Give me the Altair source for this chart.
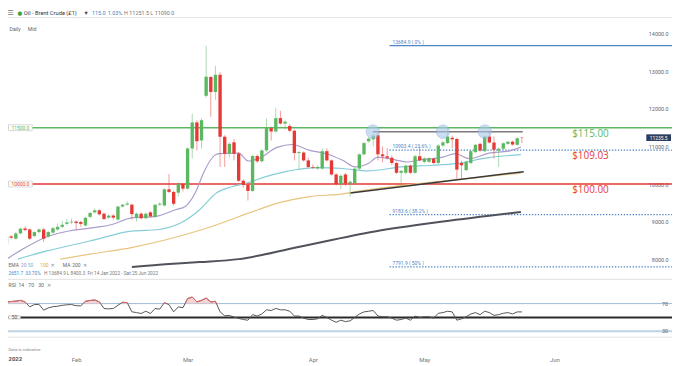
import altair as alt
import pandas as pd

# ---------------- data ----------------
opens = [8395, 8605, 8545, 8685, 8815, 8790, 8615, 8720, 8790, 8600,
         8705, 8790, 8860, 8940, 8980, 9000, 8990, 8895, 9125, 9245,
         9300, 9210, 9105, 9160, 9053, 9400, 9450, 9450, 9105, 9210,
         9090, 9245, 9125, 9450, 9430, 9860, 9790, 9770, 10000, 9877,
         10947, 11640, 11160, 12350, 12850, 12450, 12910, 11260, 10810, 11110,
         10810, 10087, 9974, 9816, 10745, 10605, 10895, 11490, 11400, 11755,
         11610, 11545, 11420, 10825, 10840, 10630, 10455, 10415, 10415, 10875,
         10630, 10255, 10000, 10255, 10020, 10020, 10410, 10790, 11140, 11190,
         11300, 10790, 10740, 10700, 10560, 10300, 10300, 10490, 10300, 10740,
         10590, 10590, 10675, 10560, 11025, 11090, 11230, 11200, 10560, 10370,
         10560, 10850, 11070, 10875, 11265, 11105, 10895, 10940, 11070, 11125,
         11045, 11245]
highs = [8650, 8640, 8720, 8840, 8870, 8820, 8740, 8820, 8830, 8750,
         8850, 8950, 9025, 9070, 9080, 9030, 9020, 9130, 9260, 9350,
         9330, 9240, 9190, 9190, 9420, 9470, 9540, 9480, 9240, 9250,
         9240, 9280, 9470, 9520, 9890, 10263, 9820, 10050, 10030, 10980,
         11870, 11700, 11760, 13684.9, 12880, 13150, 12980, 11300, 11120, 11200,
         10850, 10120, 10010, 10780, 10790, 10920, 11750, 11530, 12030, 11950,
         11700, 11600, 11450, 10880, 10870, 10700, 10520, 10500, 10950, 10950,
         10660, 10290, 10250, 10290, 10100, 10440, 10820, 11120, 11250, 11340,
         11380, 11000, 10950, 10760, 10600, 10380, 10520, 10520, 10780, 11000,
         10720, 10720, 10700, 11060, 11150, 11470, 11290, 11230, 10620, 10620,
         10900, 11070, 11100, 11290, 11420, 11265, 10970, 11110, 11150, 11160,
         11240, 11251.5]
lows = [8340, 8540, 8520, 8660, 8740, 8510, 8580, 8690, 8455, 8570,
        8680, 8760, 8830, 8900, 8930, 8790, 8860, 8870, 9090, 9220,
        9160, 9040, 9080, 9050, 9020, 9380, 9420, 9053, 9000, 9060,
        9060, 9110, 9100, 9420, 9400, 9760, 9420, 9660, 9800, 9850,
        10684, 10895, 10947, 12300, 11790, 12240, 10455, 10455, 10700, 10630,
        10060, 9900, 9560, 9790, 10560, 10570, 10860, 11160, 11370, 11580,
        11450, 11380, 10630, 10370, 10600, 10420, 10400, 10380, 10380, 10600,
        10220, 9960, 9870, 9950, 9660, 9990, 10380, 10760, 11100, 11000,
        10630, 10580, 10650, 10500, 10270, 9910, 10260, 10270, 10270, 10600,
        10550, 10560, 10520, 10530, 10990, 11060, 10950, 10120, 10150, 10340,
        10530, 10820, 10860, 10850, 11080, 10680, 10455, 10910, 11040, 11020,
        11020, 11090]
closes = [8605, 8570, 8685, 8810, 8775, 8545, 8720, 8790, 8545, 8720,
          8825, 8860, 8915, 8980, 9000, 8960, 8940, 9100, 9230, 9300,
          9195, 9070, 9160, 9105, 9400, 9450, 9480, 9200, 9210, 9090,
          9210, 9140, 9447, 9475, 9860, 9790, 9474, 10000, 9877, 10947,
          11640, 11140, 11700, 12860, 12450, 12910, 11260, 10810, 11070, 10810,
          10087, 9974, 9816, 10745, 10605, 10895, 11490, 11400, 11755, 11610,
          11660, 11420, 10825, 10850, 10630, 10455, 10435, 10455, 10875, 10630,
          10255, 10000, 10220, 10020, 10060, 10410, 10790, 11090, 11210, 11290,
          10790, 10740, 10700, 10560, 10300, 10350, 10490, 10300, 10740, 10630,
          10680, 10690, 10560, 11025, 11110, 11265, 11190, 10385, 10500, 10590,
          10875, 11045, 10895, 11265, 11105, 10915, 10940, 11085, 11125, 11050,
          11220, 11235.5]
rsi = [72.4, 73.0, 73.5, 74.7, 72.4, 65.3, 68.6, 68.9, 60.5, 63.8,
       65.5, 66.2, 67.5, 68.3, 68.6, 67.0, 66.7, 73.3, 74.5, 75.2,
       72.4, 62.9, 62.4, 62.9, 67.6, 71.9, 71.4, 58.1, 57.0, 55.7,
       59.0, 55.7, 62.9, 62.0, 71.4, 68.5, 58.1, 65.3, 64.0, 77.1,
       79.5, 72.4, 74.7, 78.0, 72.4, 73.3, 58.1, 52.4, 52.9, 50.5,
       48.6, 47.0, 46.0, 54.0, 52.0, 55.0, 61.0, 60.0, 63.0, 61.0,
       61.0, 59.0, 52.0, 52.0, 49.0, 47.0, 47.0, 48.0, 53.0, 50.0,
       46.0, 43.0, 46.0, 44.0, 45.0, 50.0, 55.0, 58.0, 59.0, 60.0,
       52.0, 51.0, 51.0, 49.0, 46.0, 47.0, 49.0, 46.0, 52.0, 50.0,
       51.0, 51.0, 49.0, 56.0, 57.0, 59.0, 58.0, 46.0, 48.0, 51.0,
       55.0, 57.0, 54.0, 59.0, 57.0, 53.0, 54.0, 56.0, 57.0, 55.0,
       58.0, 58.0]

ema20_i = [0, 3.9, 8.7, 13.7, 17.9, 22.7, 26.9, 32.2, 36.4, 38.5, 40.6, 42.7, 44.8, 45.8, 50.0,
           52.1, 54.2, 58.4, 61.5, 65.3, 68.9, 72.4, 75.2, 77.9, 80.0, 83.5, 86.3, 89.2, 91.9,
           94.0, 96.7, 99.7, 103.9, 108.1, 110.8]
ema20_v = [8000, 8297, 8597, 8755, 8824, 8921, 9097, 9139, 9316, 9403, 9755, 10368, 10763, 10808, 10824,
           10613, 10676, 10982, 11053, 10895, 10808, 10632, 10455, 10545, 10718, 10650, 10587, 10650, 10676,
           10718, 10808, 10676, 10824, 10876, 10982]
ema50_i = [2.4, 8.7, 17.9, 26.9, 32.8, 37.8, 41.6, 45.2, 48.5, 51.5, 55.7, 59.9, 62.6, 66.8, 72.4,
           77.9, 85.0, 91.9, 96.7, 103.9, 110.8]
ema50_v = [8000, 8218, 8482, 8745, 8790, 8982, 9316, 9763, 9929, 10018, 10192, 10324, 10387, 10439, 10413,
           10350, 10455, 10500, 10545, 10703, 10782]
ema100_i = [11.6, 17.9, 26.9, 42.7, 54.2, 58.4, 65.3, 72.4, 75.2, 87.7, 100.3, 110.8]
ema100_v = [8000, 8132, 8308, 8808, 9316, 9492, 9666, 9737, 9797, 10000, 10158, 10290]
ma200_i = [27.0, 35.0, 41.6, 50.0, 62.6, 79.3, 94.0, 110.8]
ma200_v = [7790, 7870, 7921, 8000, 8316, 8737, 9000, 9255]

key_levels = [11500, 10000]
key_names = ["res", "sup"]
key_labels = ["11500.0", "10000.0"]
fib_levels = [13684.9, 10903.4, 9183.6, 7791.9]
fib_labels = ["13684.9 ( 0% )", "10903.4 ( 23.6% )", "9183.6 ( 38.2% )", "7791.9 ( 50% )"]
fib_start = 82.5
usd_labels = ["$115.00", "$109.03", "$100.00"]
usd_anchor = [11500, 10903.4, 10000]
usd_names = ["res", "sup", "sup"]
price_ticks = [8000, 9000, 10000, 11000, 12000, 13000, 14000]
month_ticks = [15, 39, 66, 90, 118]
month_names = ["Feb", "Mar", "Apr", "May", "Jun"]
touch_i = [78.9, 94.0, 103.0]
touch_p = [11395, 11395, 11395]
trend_i = [74.1, 111.4]
trend_p = [9763, 10330]
resist_i = [78.9, 111.2]
resist_p = [11395, 11395]
last_price = 11235.5
rsi_levels = [70, 50, 30]
rsi_tick_values = [70, 30]

# ---------------- layout helpers ----------------
W, H = 672, 349
FONT = "Roboto"
BAR_STEP = 4.77     # pixels between daily candles in the reference


def px(x):
    # reference page x -> chart x (the page has an 8px margin)
    return x - 8


def py(y):
    return y - 8


GREEN = "#36a03c"
RED = "#e3262c"
LINE_GREEN = "#5cb860"
LINE_RED = "#e53935"
FIB = "#4f86c6"

x_scale = alt.Scale(domain=[0, 140], range=[px(1.5), px(1.5 + BAR_STEP * 140)], zero=False, nice=False)
y_price = alt.Scale(domain=[8000, 14000], range=[py(260), py(32)], zero=False, nice=False)
y_rsi = alt.Scale(domain=[30, 70], range=[py(333), py(305)], zero=False, nice=False)
dir_scale = alt.Scale(domain=["up", "down"], range=[GREEN, RED])
lvl_scale = alt.Scale(domain=["res", "sup"], range=[LINE_GREEN, LINE_RED])

BOX = "M-1,-0.25H1V0.25H-1Z"


def X(field="i"):
    return alt.X(f"{field}:Q", scale=x_scale, axis=None)


def Yp(field):
    return alt.Y(f"{field}:Q", scale=y_price, axis=None)


def txt(s, x, y, size=5.5, color="#666", align="left", weight="normal", font=FONT):
    return alt.Chart(pd.DataFrame({"k": [0]})).mark_text(
        text=s, align=align, baseline="middle", fontSize=size, color=color,
        font=font, fontWeight=weight
    ).encode(x=alt.value(x), y=alt.value(y))


# ---------------- price panel ----------------
cdf = pd.DataFrame({"i": list(range(len(opens))), "o": opens, "h": highs, "l": lows, "c": closes})
cdf["dir"] = ["up" if c >= o else "down" for o, c in zip(opens, closes)]

kdf = pd.DataFrame({"p": key_levels, "name": key_names, "lab": key_labels})
key_lines = alt.Chart(kdf).mark_rule(strokeWidth=1.6).encode(
    x=alt.value(0), x2=alt.value(W), y=Yp("p"),
    color=alt.Color("name:N", scale=lvl_scale, legend=None))

fdf = pd.DataFrame({"p": fib_levels, "lab": fib_labels, "i0": [fib_start] * len(fib_levels)})
fib0 = alt.Chart(fdf.iloc[:1]).mark_rule(strokeWidth=1.4, color=FIB).encode(
    x=X("i0"), x2=alt.value(W), y=Yp("p"))
fib_rest = alt.Chart(fdf.iloc[1:]).mark_rule(strokeWidth=1.3, color=FIB, strokeDash=[1.4, 1.6]).encode(
    x=X("i0"), x2=alt.value(W), y=Yp("p"))
fib_text = alt.Chart(fdf).mark_text(align="left", baseline="middle", dx=3, dy=-4, fontSize=5,
                                    color=FIB, font=FONT).encode(x=X("i0"), y=Yp("p"), text="lab:N")


def ma_line(idx, vals, color, width):
    d = pd.DataFrame({"i": idx, "v": vals})
    return alt.Chart(d).mark_line(color=color, strokeWidth=width, interpolate="monotone").encode(
        x=X(), y=Yp("v"))


ma200 = ma_line(ma200_i, ma200_v, "#50535c", 2.0)
ema100 = ma_line(ema100_i, ema100_v, "#e9c47e", 1.2)
ema50 = ma_line(ema50_i, ema50_v, "#86cdd8", 1.2)
ema20 = ma_line(ema20_i, ema20_v, "#ab9dcb", 1.2)

tdf = pd.DataFrame({"i": [trend_i[0]], "i2": [trend_i[1]], "p": [trend_p[0]], "p2": [trend_p[1]]})
trend = alt.Chart(tdf).mark_rule(color="#3a3a3a", strokeWidth=1.5).encode(
    x=X(), x2="i2:Q", y=Yp("p"), y2="p2:Q")
rdf = pd.DataFrame({"i": [resist_i[0]], "i2": [resist_i[1]], "p": [resist_p[0]], "p2": [resist_p[1]]})
resist = alt.Chart(rdf).mark_rule(color="#7a7a7a", strokeWidth=1.5).encode(
    x=X(), x2="i2:Q", y=Yp("p"), y2="p2:Q")

wicks = alt.Chart(cdf).mark_rule(strokeWidth=1, opacity=0.5).encode(
    x=X(), y=Yp("l"), y2="h:Q", color=alt.Color("dir:N", scale=dir_scale, legend=None))

x_axis = alt.Axis(values=month_ticks,
                  labelExpr=" : ".join(f"datum.value == {v} ? '{n}'" for v, n in zip(month_ticks[:-1], month_names[:-1]))
                  + f" : '{month_names[-1]}'",
                  ticks=False, tickSize=0, domain=False, grid=False, labelPadding=2, labelFontSize=6,
                  labelColor="#777", labelFont=FONT, title=None, orient="bottom", labelFlush=False)
price_axis = alt.Axis(values=price_ticks, format=".1f", orient="right", labelAlign="right",
                      labelPadding=-4, ticks=False, tickSize=0, domain=False, grid=False,
                      labelFontSize=5.5, labelColor="#666", labelFont=FONT, title=None,
                      labelBaseline="middle")
bodies = alt.Chart(cdf).mark_bar(size=3.4).encode(
    x=alt.X("i:Q", scale=x_scale, axis=x_axis),
    y=alt.Y("o:Q", scale=y_price, axis=price_axis), y2="c:Q",
    color=alt.Color("dir:N", scale=dir_scale, legend=None))

cirdf = pd.DataFrame({"i": touch_i, "p": touch_p})
circles = alt.Chart(cirdf).mark_circle(size=185, color="#a9c8ea", opacity=0.6,
                                        stroke="#7ea8da", strokeWidth=0.8).encode(x=X(), y=Yp("p"))

udf = pd.DataFrame({"p": usd_anchor, "lab": usd_labels, "name": usd_names})
usd = alt.Chart(udf).mark_text(align="left", baseline="middle", dy=6, fontSize=10, font="Open Sans").encode(
    x=alt.value(px(579)), y=Yp("p"), text="lab:N",
    color=alt.Color("name:N", scale=lvl_scale, legend=None))

left_box = alt.Chart(kdf).mark_point(shape=BOX, size=24 * 24, filled=True, fill="white",
                                     stroke="#cfcfcf", strokeWidth=0.8, opacity=1).encode(
    x=alt.value(12.5), y=Yp("p"))
left_txt = alt.Chart(kdf).mark_text(align="center", baseline="middle", fontSize=5, font=FONT).encode(
    x=alt.value(12.5), y=Yp("p"), text="lab:N",
    color=alt.Color("name:N", scale=lvl_scale, legend=None))

lpdf = pd.DataFrame({"p": [last_price], "t": [f"{last_price:.1f}"]})
last_box = alt.Chart(lpdf).mark_point(shape="M-1,-0.27H1V0.27H-1Z", size=25 * 25, filled=True,
                                      fill="#2c3f5e", opacity=1).encode(x=alt.value(px(666.5)), y=Yp("p"))
last_txt = alt.Chart(lpdf).mark_text(align="center", baseline="middle", fontSize=5, color="white",
                                     font=FONT).encode(x=alt.value(px(666.5)), y=Yp("p"), text="t:N")

price = alt.layer(key_lines, fib0, fib_rest, fib_text, ma200, ema100, ema50, ema20, trend, resist,
                  wicks, bodies, circles, usd, left_box, left_txt, last_box, last_txt
                  ).resolve_axis(x="independent", y="independent")

# ---------------- RSI panel ----------------
n = len(rsi)
rsi_df = pd.DataFrame({"i": list(range(n)), "r": rsi})
segs = []
seg = 0
for k in range(n):
    above = rsi[k] > 70
    prev_above = k > 0 and rsi[k - 1] > 70
    if above and not prev_above:
        seg += 1
        if k > 0:
            t = (70 - rsi[k - 1]) / (rsi[k] - rsi[k - 1])
            segs.append({"i": k - 1 + t, "r": 70, "seg": seg})
    if above:
        segs.append({"i": k, "r": rsi[k], "seg": seg})
    if prev_above and not above:
        t = (rsi[k - 1] - 70) / (rsi[k - 1] - rsi[k])
        segs.append({"i": k - 1 + t, "r": 70, "seg": seg})
seg_df = pd.DataFrame(segs)
seg_df["base"] = 70


def Yr(field):
    return alt.Y(f"{field}:Q", scale=y_rsi, axis=None)


lv = pd.DataFrame({"v": rsi_levels})
rsi70 = alt.Chart(lv.iloc[[0]]).mark_rule(color="#9db8d4", strokeWidth=1).encode(
    x=alt.value(0), x2=alt.value(W), y=Yr("v"))
rsi50 = alt.Chart(lv.iloc[[1]]).mark_rule(color="#2a2a2a", strokeWidth=2).encode(
    x=alt.value(0), x2=alt.value(W), y=Yr("v"))
rsi30 = alt.Chart(lv.iloc[[2]]).mark_rule(color="#bed2e6", strokeWidth=2).encode(
    x=alt.value(0), x2=alt.value(W), y=Yr("v"))
rsi_fill = alt.Chart(seg_df).mark_area(color="#f5cfd0", opacity=0.9).encode(
    x=X(), y=Yr("r"), y2="base:Q", detail="seg:N")
rsi_line = alt.Chart(rsi_df).mark_line(color="#555555", strokeWidth=1).encode(x=X(), y=Yr("r"))
rsi_red = alt.Chart(seg_df).mark_line(color="#e8666a", strokeWidth=1).encode(
    x=X(), y=Yr("r"), detail="seg:N")
rsi_ticks = alt.Chart(pd.DataFrame({"v": rsi_tick_values})).mark_text(
    align="right", baseline="middle", fontSize=5.5, color="#666", font=FONT).encode(
    x=alt.value(px(676)), y=Yr("v"), text=alt.Text("v:Q", format="d"))
rsi_box = alt.Chart(lv.iloc[[1]]).mark_point(shape=BOX, size=12 * 12 * 1.0, filled=True, fill="white",
                                             stroke="#bdbdbd", strokeWidth=0.8, opacity=1).encode(
    x=alt.value(6.5), y=Yr("v"))
rsi_box_t = alt.Chart(lv.iloc[[1]]).mark_text(align="center", baseline="middle", fontSize=5, color="#555",
                                              font=FONT).encode(x=alt.value(6.5), y=Yr("v"),
                                                                text=alt.Text("v:Q", format="d"))

rsi_panel = alt.layer(rsi70, rsi30, rsi_fill, rsi50, rsi_line, rsi_red, rsi_ticks, rsi_box, rsi_box_t)

# ---------------- static texts / chrome ----------------
sep_top = alt.Chart(pd.DataFrame({"k": [0]})).mark_rule(color="#e6e6e6", strokeWidth=1).encode(
    x=alt.value(0), x2=alt.value(W), y=alt.value(7.5))
sep_mid = alt.Chart(pd.DataFrame({"k": [0]})).mark_rule(color="#e3e3e3", strokeWidth=1).encode(
    x=alt.value(0), x2=alt.value(W), y=alt.value(py(280.5)))
sep_bot = alt.Chart(pd.DataFrame({"k": [0]})).mark_rule(color="#e3e3e3", strokeWidth=1).encode(
    x=alt.value(0), x2=alt.value(W), y=alt.value(py(339)))

HF = 5.5
hx = 2.5      # header row shift (its left edge falls inside the page margin)
ex = 4.5      # EMA legend row shift
dx_ = 8.5     # measure row shift
rx = 5.5      # RSI legend row shift
overlays = [
    sep_top, sep_mid, sep_bot,
    txt("☰", px(5 + hx), 3.2, 7, "#777", font="DejaVu Sans"),
    txt("●", px(15 + hx), 3.2, 5.5, "#3aa53f", font="DejaVu Sans"),
    txt("Oil - Brent Crude (£1)", px(21.5 + hx), 3.2, HF + 0.3, "#333"),
    txt("▾", px(83 + hx), 3.2, 6.5, "#444", font="DejaVu Sans"),
    txt("115.0", px(90.5 + hx), 3.2, HF, "#3f86c8"),
    txt("1.03%", px(106.5 + hx), 3.2, HF, "#3f86c8"),
    txt("H 11251.5  L 11090.0", px(123 + hx), 3.2, HF, "#777"),
    txt("Daily", px(9.5), py(26.7), 5.3, "#666"),
    txt("Mid", px(28), py(26.7), 5.3, "#666"),
    txt("EMA", px(4 + ex), py(266), 5, "#666"),
    txt("20", px(16.7 + ex), py(266), 5, "#9f8fc6"),
    txt("50", px(23.5 + ex), py(266), 5, "#5fc0cf"),
    txt("100", px(36 + ex), py(266), 5, "#e2a94a"),
    txt("✕", px(46.5 + ex), py(266), 5, "#888", font="DejaVu Sans"),
    txt("MA", px(59 + ex), py(266), 5, "#666"),
    txt("200", px(68.5 + ex), py(266), 5, "#666"),
    txt("✕", px(79.5 + ex), py(266), 5, "#888", font="DejaVu Sans"),
    txt("2651.7", px(0 + dx_), py(275), 4.8, "#3f86c8"),
    txt("33.70%", px(17 + dx_), py(275), 4.8, "#3f86c8"),
    txt("H 13684.9", px(36 + dx_), py(275), 4.8, "#777"),
    txt("L 8400.3", px(59 + dx_), py(275), 4.8, "#777"),
    txt("Fri 14 Jan 2022 - Sat 25 Jun 2022", px(80 + dx_), py(275), 4.8, "#777"),
    txt("RSI", px(3 + rx), py(286.5), 5.2, "#666"),
    txt("14", px(13 + rx), py(286.5), 5.2, "#666"),
    txt("70", px(23 + rx), py(286.5), 5.2, "#666"),
    txt("30", px(33 + rx), py(286.5), 5.2, "#666"),
    txt("✕", px(42 + rx), py(286.5), 5.2, "#888", font="DejaVu Sans"),
    txt("Data is indicative", 0.5, py(352), 4.3, "#888"),
    txt("2022", 0.5, py(361.5), 6, "#555", weight="bold"),
]

chart = alt.layer(price, rsi_panel, *overlays).resolve_scale(y="independent").resolve_axis(
    x="independent", y="independent").properties(
    width=W, height=H,
    padding={"left": 0, "right": 0, "top": 0, "bottom": 9},
    autosize=alt.AutoSizeParams(type="none"),
    background="white",
).configure_view(stroke=None)

chart.save("out.html", embed_options={"renderer": "svg", "actions": False})
